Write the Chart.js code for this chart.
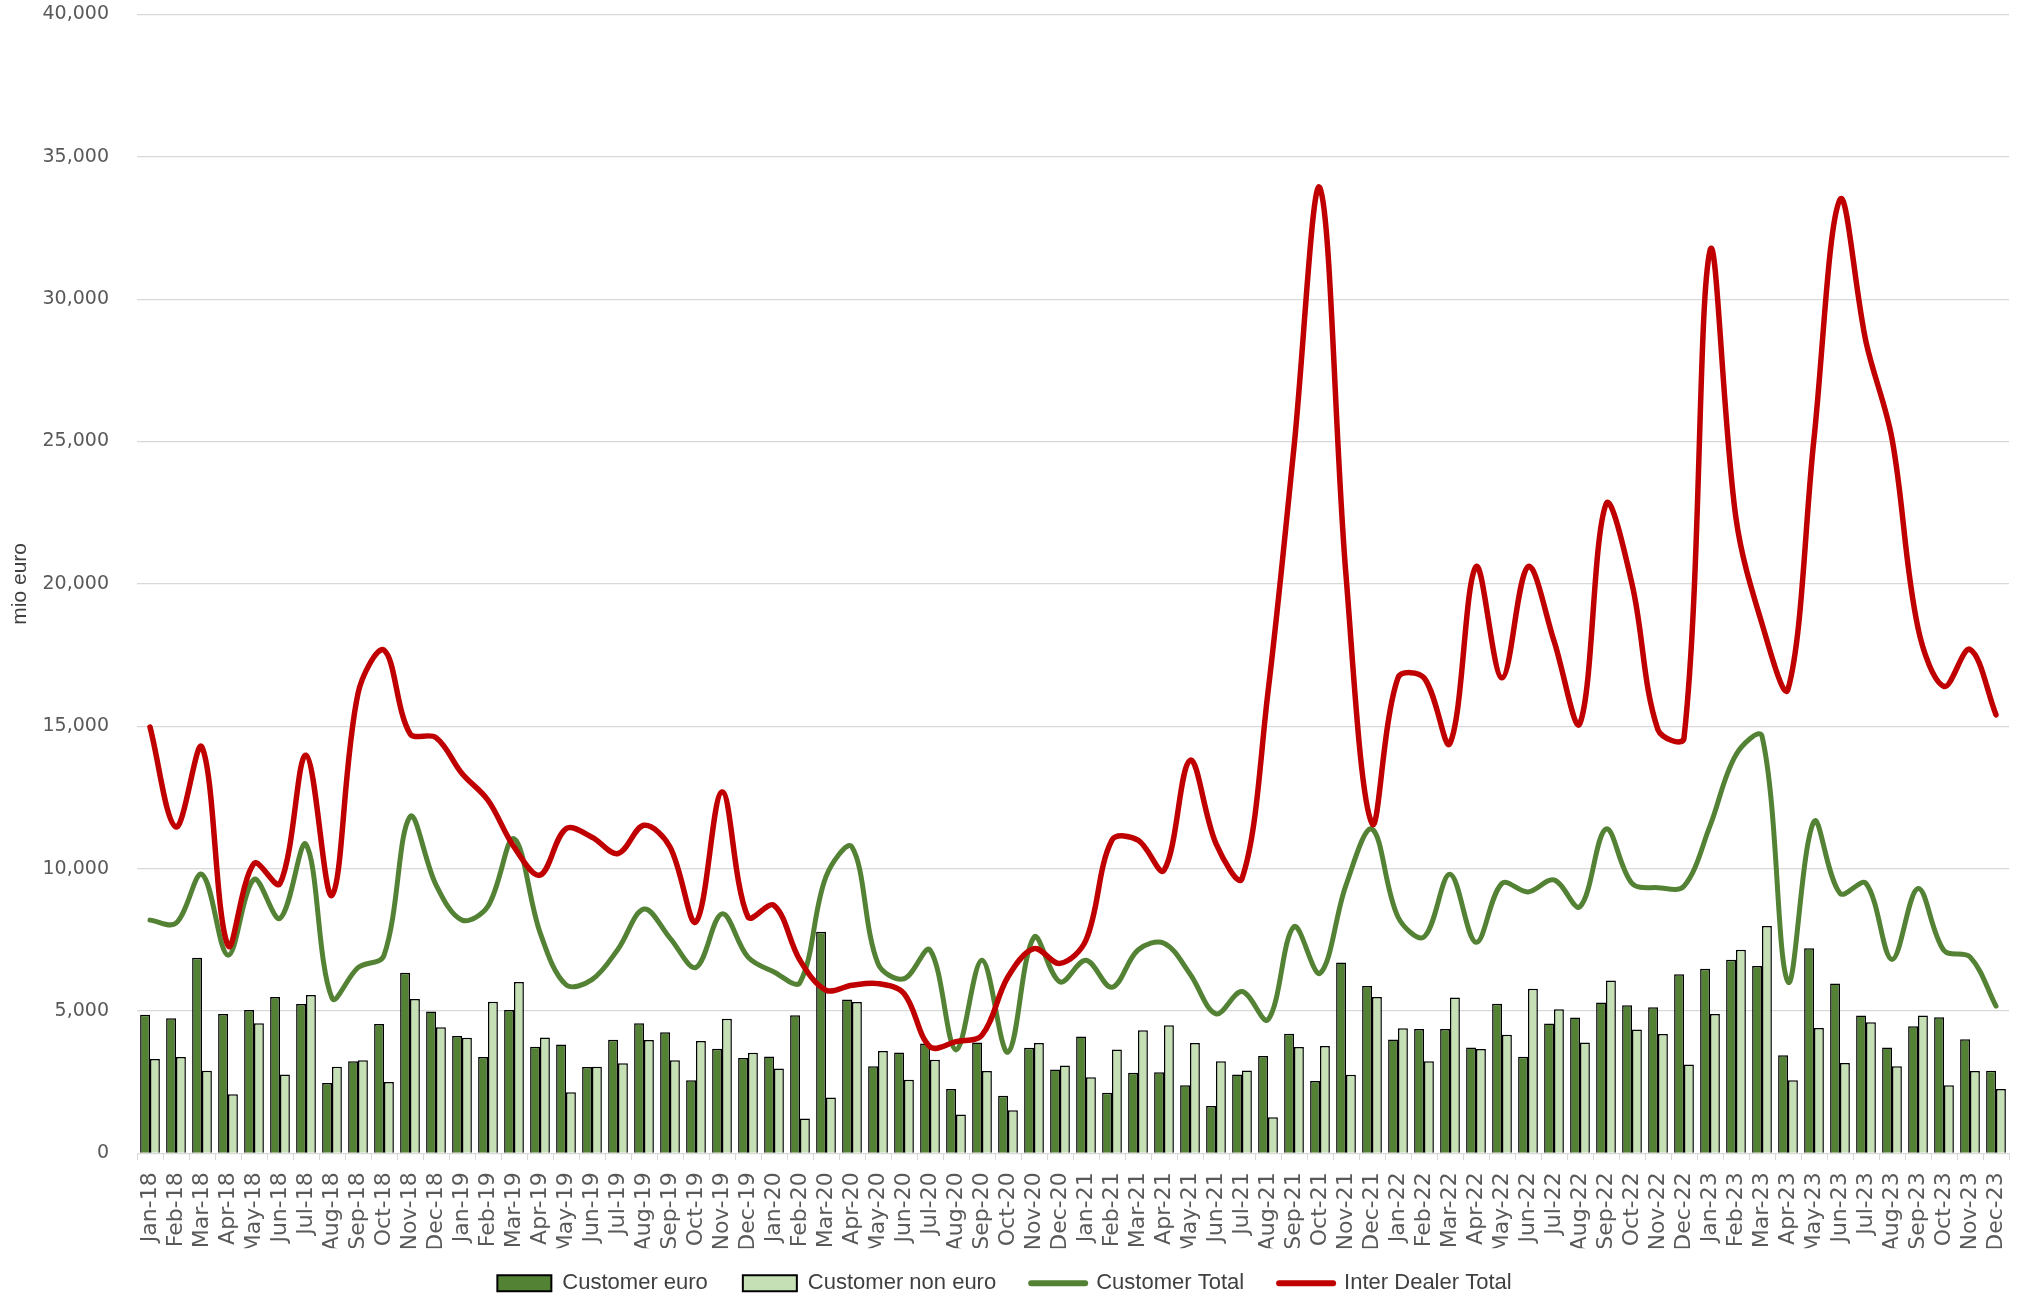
<!DOCTYPE html>
<html>
<head>
<meta charset="utf-8">
<title>Customer and inter dealer volumes</title>
<script src="https://cdn.jsdelivr.net/npm/chart.js@4.4.1/dist/chart.umd.min.js"></script>
<style>
    html, body { margin: 0; padding: 0; background: #ffffff; }
    #wrap { width: 2026px; height: 1297px; position: relative; }
</style>
</head>
<body>
<div id="wrap"><canvas id="volChart"></canvas></div>
<script>
const months = [
    'Jan-18','Feb-18','Mar-18','Apr-18','May-18','Jun-18','Jul-18','Aug-18','Sep-18','Oct-18','Nov-18','Dec-18',
    'Jan-19','Feb-19','Mar-19','Apr-19','May-19','Jun-19','Jul-19','Aug-19','Sep-19','Oct-19','Nov-19','Dec-19',
    'Jan-20','Feb-20','Mar-20','Apr-20','May-20','Jun-20','Jul-20','Aug-20','Sep-20','Oct-20','Nov-20','Dec-20',
    'Jan-21','Feb-21','Mar-21','Apr-21','May-21','Jun-21','Jul-21','Aug-21','Sep-21','Oct-21','Nov-21','Dec-21',
    'Jan-22','Feb-22','Mar-22','Apr-22','May-22','Jun-22','Jul-22','Aug-22','Sep-22','Oct-22','Nov-22','Dec-22',
    'Jan-23','Feb-23','Mar-23','Apr-23','May-23','Jun-23','Jul-23','Aug-23','Sep-23','Oct-23','Nov-23','Dec-23'
];

// mio euro per month
const customerEuro = [
    4870, 4740, 6870, 4890, 5030, 5490, 5240, 2470, 3230, 4540, 6340, 4980,
    4120, 3380, 5030, 3740, 3820, 3030, 3990, 4570, 4250, 2570, 3670, 3350,
    3400, 4850, 7780, 5400, 3060, 3540, 3860, 2260, 3890, 2020, 3710, 2940,
    4100, 2130, 2830, 2850, 2390, 1660, 2770, 3420, 4200, 2540, 6700, 5880,
    4000, 4370, 4370, 3720, 5250, 3390, 4560, 4770, 5300, 5200, 5130, 6290,
    6480, 6800, 6580, 3440, 7200, 5960, 4840, 3720, 4460, 4780, 4010, 2900
];

const customerNonEuro = [
    3310, 3380, 2900, 2070, 4570, 2770, 5560, 3040, 3270, 2500, 5420, 4430,
    4060, 5320, 6020, 4070, 2140, 3040, 3160, 3980, 3270, 3940, 4730, 3530,
    2980, 1220, 1960, 5310, 3590, 2580, 3290, 1360, 2890, 1510, 3870, 3080,
    2670, 3650, 4320, 4500, 3870, 3230, 2910, 1270, 3730, 3770, 2760, 5490,
    4390, 3230, 5470, 3660, 4160, 5780, 5060, 3890, 6070, 4350, 4190, 3120,
    4890, 7150, 7980, 2570, 4400, 3170, 4600, 3060, 4840, 2390, 2890, 2260
];

const customerTotal = [
    8190, 8080, 9800, 6960, 9620, 8250, 10850, 5450, 6520, 6950, 11820, 9430,
    8190, 8680, 11050, 7760, 5920, 6100, 7170, 8580, 7560, 6530, 8410, 6890,
    6370, 6000, 9720, 10760, 6660, 6130, 7140, 3630, 6780, 3550, 7590, 6020,
    6780, 5830, 7140, 7380, 6300, 4900, 5680, 4690, 7960, 6320, 9420, 11390,
    8300, 7600, 9800, 7410, 9480, 9180, 9600, 8660, 11390, 9480, 9330, 9380,
    11500, 14000, 14650, 6020, 11650, 9130, 9480, 6810, 9300, 7120, 6900, 5170
];

const interDealerTotal = [
    14970, 11460, 14270, 7300, 10180, 9470, 13980, 9060, 16150, 17670, 14740, 14600,
    13340, 12400, 10760, 9770, 11400, 11100, 10530, 11520, 10760, 8130, 12690, 8300,
    8710, 6780, 5730, 5900, 5960, 5610, 3740, 3920, 4150, 6200, 7190, 6670,
    7490, 11000, 11000, 9940, 13800, 10880, 9650, 16200, 24800, 33900, 20300, 11580,
    16700, 16700, 14400, 20600, 16700, 20600, 18000, 15100, 22800, 20000, 14870, 14580,
    31700, 22300, 18600, 16300, 25100, 33500, 28500, 25100, 18450, 16400, 17700, 15400
];

const yTicks = [0, 5000, 10000, 15000, 20000, 25000, 30000, 35000, 40000];

const DARK_GREEN = '#548235';
const LIGHT_GREEN = '#C5E0B4';
const RED = '#C00000';
const GRID = '#D9D9D9';
const TICK_TEXT = '#595959';

// legend box is kept short so the rotated month labels get room; pull the row up
// (only the top moves, the legend clips to its own box)
const legendNudge = {
    id: 'legendNudge',
    afterLayout(chart) {
        if (chart.legend) {
            chart.legend.top -= 11;
        }
    }
};

function legendLabels(chart) {
    return chart.data.datasets.map((ds, i) => {
        const isLine = ds.type === 'line';
        return {
            text: ds.label,
            datasetIndex: i,
            hidden: !chart.isDatasetVisible(i),
            fillStyle: isLine ? ds.borderColor : ds.backgroundColor,
            strokeStyle: isLine ? ds.borderColor : '#000000',
            lineWidth: isLine ? 6 : 2,
            lineCap: 'round',
            pointStyle: isLine ? 'line' : 'rect',
            fontColor: '#404040'
        };
    });
}

const ctx = document.getElementById('volChart').getContext('2d');
new Chart(ctx, {
    data: {
        labels: months,
        datasets: [
            {
                type: 'bar', label: 'Customer euro', data: customerEuro,
                backgroundColor: DARK_GREEN, borderColor: '#000000', borderWidth: 1.5,
                barPercentage: 1.0, categoryPercentage: 0.76, order: 3
            },
            {
                type: 'bar', label: 'Customer non euro', data: customerNonEuro,
                backgroundColor: LIGHT_GREEN, borderColor: '#000000', borderWidth: 1.5,
                barPercentage: 1.0, categoryPercentage: 0.76, order: 4
            },
            {
                type: 'line', label: 'Customer Total', data: customerTotal,
                borderColor: DARK_GREEN, backgroundColor: DARK_GREEN, borderWidth: 5,
                pointRadius: 0, tension: 0.35, fill: false,
                borderCapStyle: 'round', borderJoinStyle: 'round', order: 2
            },
            {
                type: 'line', label: 'Inter Dealer Total', data: interDealerTotal,
                borderColor: RED, backgroundColor: RED, borderWidth: 5.5,
                pointRadius: 0, tension: 0.35, fill: false,
                borderCapStyle: 'round', borderJoinStyle: 'round', order: 1
            }
        ]
    },
    options: {
        responsive: true,
        maintainAspectRatio: false,
        animation: false,
        devicePixelRatio: 1,
        layout: { padding: { top: 14, right: 17, left: 0, bottom: 0 } },
        plugins: {
            tooltip: { enabled: false },
            legend: {
                position: 'bottom',
                maxHeight: 48.7,
                labels: {
                    usePointStyle: true,
                    pointStyleWidth: 54,
                    boxWidth: 54,
                    boxHeight: 16,
                    padding: 35,
                    color: '#404040',
                    font: { family: 'Liberation Sans, Arial, sans-serif', size: 22 },
                    generateLabels: legendLabels
                }
            }
        },
        scales: {
            x: {
                grid: {
                    display: true, drawOnChartArea: false, drawTicks: true,
                    tickLength: 7, color: GRID, offset: true, lineWidth: 1
                },
                border: { display: true, color: GRID, width: 1 },
                ticks: {
                    autoSkip: false, maxRotation: 90, minRotation: 90, padding: 12,
                    color: TICK_TEXT,
                    font: { family: 'DejaVu Sans, sans-serif', size: 22, lineHeight: 0.8 }
                },
                afterFit(scale) { scale.height = 95; }
            },
            y: {
                min: 0,
                max: 40000,
                afterBuildTicks(scale) { scale.ticks = yTicks.map(v => ({ value: v })); },
                grid: {
                    color: GRID, lineWidth: 1.2,
                    drawTicks: true, tickLength: 25, tickColor: 'rgba(0,0,0,0)'
                },
                border: { display: false },
                ticks: {
                    padding: 3,
                    color: TICK_TEXT,
                    font: { family: 'DejaVu Sans, sans-serif', size: 19 },
                    callback: v => v.toLocaleString('en-US')
                },
                title: {
                    display: true,
                    text: 'mio euro',
                    color: '#404040',
                    padding: { top: 8, bottom: 0 },
                    font: { family: 'Liberation Sans, Arial, sans-serif', size: 21 }
                },
                afterFit(scale) { scale.width = 137; }
            }
        }
    },
    plugins: [legendNudge]
});
</script>
</body>
</html>
